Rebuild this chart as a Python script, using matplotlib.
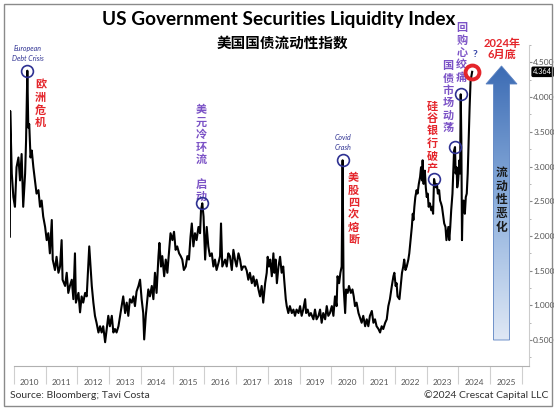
import numpy as np
import matplotlib
matplotlib.use("Agg")
import matplotlib.pyplot as plt
from matplotlib.patches import Polygon, Rectangle
from matplotlib.colors import LinearSegmentedColormap

# index level: (decimal year, value)
seg_2010_2013 = [
    (2009.87, 1.99), (2009.88, 3.80), (2009.93, 2.90), (2009.98, 2.56), (2010.03, 2.42),
    (2010.08, 2.99), (2010.14, 3.13), (2010.19, 2.80), (2010.24, 3.18), (2010.29, 2.42),
    (2010.35, 2.90), (2010.38, 3.37), (2010.42, 4.38), (2010.45, 3.56), (2010.48, 3.61),
    (2010.52, 3.13), (2010.56, 3.23), (2010.61, 2.99), (2010.66, 2.80), (2010.71, 2.61),
    (2010.77, 2.66), (2010.82, 2.42), (2010.87, 2.51), (2010.92, 2.28), (2010.98, 2.13),
    (2011.03, 1.94), (2011.08, 2.04), (2011.13, 1.75), (2011.19, 2.23), (2011.22, 1.66),
    (2011.29, 1.51), (2011.34, 1.70), (2011.40, 1.47), (2011.45, 1.56), (2011.50, 1.94),
    (2011.53, 1.37), (2011.61, 1.28), (2011.66, 1.47), (2011.71, 1.18), (2011.76, 1.28),
    (2011.82, 1.37), (2011.87, 1.09), (2011.92, 1.75), (2011.95, 1.04), (2012.03, 1.18),
    (2012.08, 0.90), (2012.13, 1.13), (2012.18, 1.04), (2012.24, 1.18), (2012.29, 1.13),
    (2012.37, 1.85), (2012.45, 1.28), (2012.50, 1.04), (2012.55, 0.85), (2012.60, 0.75),
    (2012.66, 0.61), (2012.71, 0.70), (2012.76, 0.61), (2012.81, 0.70), (2012.87, 0.47),
    (2012.92, 0.66), (2012.97, 0.85), (2013.02, 0.70), (2013.08, 0.85), (2013.13, 0.61),
    (2013.18, 0.66), (2013.23, 0.61), (2013.29, 0.70), (2013.34, 0.85), (2013.39, 0.99),
    (2013.44, 1.13),
]
seg_2013_2017 = [
    (2013.50, 0.89), (2013.55, 1.04), (2013.60, 0.85), (2013.65, 1.09), (2013.71, 1.04),
    (2013.76, 1.13), (2013.81, 0.99), (2013.86, 1.20), (2013.92, 1.28), (2013.97, 1.37),
    (2014.02, 1.09), (2014.07, 0.89), (2014.10, 0.51), (2014.15, 0.85), (2014.18, 0.99),
    (2014.23, 1.23), (2014.28, 1.13), (2014.34, 1.28), (2014.39, 1.09), (2014.44, 1.47),
    (2014.49, 1.18), (2014.55, 1.71), (2014.58, 1.90), (2014.63, 1.56), (2014.67, 1.71),
    (2014.73, 1.42), (2014.78, 1.66), (2014.83, 1.47), (2014.88, 1.75), (2014.93, 2.04),
    (2014.99, 1.94), (2015.04, 2.06), (2015.09, 1.80), (2015.14, 1.85), (2015.20, 1.75),
    (2015.25, 1.71), (2015.30, 1.66), (2015.35, 1.51), (2015.41, 1.56), (2015.46, 1.71),
    (2015.51, 1.66), (2015.56, 1.99), (2015.60, 2.18), (2015.65, 1.85), (2015.70, 2.04),
    (2015.75, 1.94), (2015.81, 2.13), (2015.86, 2.04), (2015.89, 2.37), (2015.93, 2.47),
    (2015.97, 2.28), (2016.02, 1.66), (2016.07, 2.13), (2016.12, 1.85), (2016.17, 1.71),
    (2016.23, 1.75), (2016.28, 1.56), (2016.33, 1.66), (2016.38, 1.51), (2016.44, 1.61),
    (2016.49, 1.71), (2016.52, 2.18), (2016.56, 1.56), (2016.65, 1.66), (2016.70, 1.56),
    (2016.75, 1.75), (2016.80, 1.71), (2016.86, 1.51), (2016.91, 1.80), (2016.96, 1.66),
    (2017.01, 1.56), (2017.07, 1.75), (2017.12, 1.66), (2017.17, 1.51), (2017.22, 1.56),
]
seg_2017_2020 = [
    (2017.28, 1.56), (2017.33, 1.50), (2017.38, 1.37), (2017.43, 1.47), (2017.49, 1.32),
    (2017.54, 1.42), (2017.59, 1.28), (2017.64, 1.37), (2017.70, 1.23), (2017.75, 1.13),
    (2017.80, 1.28), (2017.85, 1.04), (2017.91, 1.32), (2017.96, 1.47), (2017.99, 1.70),
    (2018.03, 1.56), (2018.07, 1.66), (2018.12, 1.42), (2018.17, 1.75), (2018.20, 1.47),
    (2018.24, 1.66), (2018.28, 1.32), (2018.33, 1.56), (2018.38, 1.70), (2018.43, 1.47),
    (2018.48, 1.56), (2018.51, 1.37), (2018.56, 1.09), (2018.59, 0.99), (2018.64, 0.89),
    (2018.69, 0.99), (2018.75, 0.89), (2018.80, 0.94), (2018.85, 0.85), (2018.90, 0.94),
    (2018.96, 0.89), (2019.01, 0.99), (2019.06, 0.85), (2019.11, 0.94), (2019.17, 1.09),
    (2019.20, 0.89), (2019.25, 0.94), (2019.30, 0.85), (2019.35, 0.89), (2019.43, 0.80),
    (2019.48, 0.94), (2019.53, 0.80), (2019.59, 0.85), (2019.64, 0.94), (2019.69, 0.75),
    (2019.74, 0.89), (2019.80, 0.80), (2019.85, 0.99), (2019.90, 0.85), (2019.95, 0.89),
    (2020.01, 0.99), (2020.06, 0.85), (2020.11, 1.13), (2020.16, 0.99), (2020.19, 1.42),
    (2020.24, 1.32), (2020.28, 1.47), (2020.32, 1.56), (2020.35, 3.09), (2020.38, 1.28),
    (2020.43, 0.89), (2020.46, 1.23), (2020.51, 1.18), (2020.55, 1.28), (2020.61, 1.18),
    (2020.66, 1.23), (2020.70, 1.13), (2020.74, 0.99), (2020.79, 1.04), (2020.85, 0.89),
]
seg_2020_2024 = [
    (2020.95, 0.75), (2021.00, 0.85), (2021.06, 0.70), (2021.11, 0.80), (2021.16, 0.70),
    (2021.21, 0.85), (2021.27, 0.92), (2021.32, 0.75), (2021.37, 0.80), (2021.42, 0.70),
    (2021.48, 0.66), (2021.53, 0.61), (2021.58, 0.70), (2021.63, 0.66), (2021.69, 0.75),
    (2021.74, 0.80), (2021.79, 0.99), (2021.84, 1.09), (2021.90, 1.28), (2021.95, 1.42),
    (2021.98, 1.47), (2022.02, 1.28), (2022.05, 1.32), (2022.08, 1.13), (2022.14, 1.09),
    (2022.18, 1.28), (2022.22, 1.47), (2022.26, 1.56), (2022.29, 1.66), (2022.33, 1.51),
    (2022.37, 1.56), (2022.42, 1.66), (2022.45, 1.75), (2022.49, 1.94), (2022.53, 2.13),
    (2022.56, 2.32), (2022.58, 2.23), (2022.61, 2.42), (2022.64, 2.56), (2022.68, 2.66),
    (2022.71, 2.61), (2022.75, 2.75), (2022.79, 2.85), (2022.82, 2.99), (2022.85, 2.80),
    (2022.87, 3.09), (2022.90, 2.75), (2022.94, 2.94), (2022.97, 2.70), (2023.00, 2.56),
    (2023.03, 2.61), (2023.06, 2.42), (2023.10, 2.47), (2023.14, 2.37), (2023.17, 2.42),
    (2023.20, 2.32), (2023.23, 2.82), (2023.26, 2.75), (2023.29, 2.70), (2023.32, 2.75),
    (2023.35, 2.61), (2023.39, 2.66), (2023.42, 2.51), (2023.45, 2.47), (2023.48, 2.42),
    (2023.52, 2.28), (2023.55, 2.18), (2023.59, 2.13), (2023.62, 1.94), (2023.65, 2.04),
    (2023.68, 2.13), (2023.71, 1.94), (2023.74, 2.13), (2023.77, 2.37), (2023.81, 2.61),
    (2023.84, 2.99), (2023.86, 3.23), (2023.89, 3.28), (2023.91, 2.90), (2023.94, 2.99),
    (2023.96, 2.70), (2023.99, 2.80), (2024.03, 3.09), (2024.05, 2.90), (2024.07, 4.04),
    (2024.09, 3.37), (2024.11, 1.94), (2024.13, 2.42), (2024.16, 2.51), (2024.20, 2.32),
    (2024.23, 2.56), (2024.26, 2.61), (2024.29, 2.90), (2024.32, 3.37), (2024.35, 3.85),
    (2024.38, 4.23), (2024.43, 4.364),
]

years = list(range(2010, 2026))
y_ticks = [0.5, 1.0, 1.5, 2.0, 2.5, 3.0, 3.5, 4.0, 4.5]

# circled events
event_t = [2010.42, 2015.93, 2020.35, 2023.23, 2023.89, 2024.07]
event_en = ["European\nDebt Crisis", "", "Covid\nCrash", "", "", ""]
event_cn = ["欧洲危机", "美元冷环流\n启动", "美股四次熔断", "硅谷银行破产", "国债市场动荡", "回购心绞痛"]

title = "US Government Securities Liquidity Index"
subtitle = "美国国债流动性指数"
end_label = "2024年\n6月底"
arrow_label = "流动性恶化"
source = "Source: Bloomberg; Tavi Costa"
copyright_txt = "©2024 Crescat Capital LLC"

RED = "#e4252b"
PURPLE = "#7b52c6"
NAVY = "#2e3192"

plt.rcParams["font.family"] = ["Lato", "Noto Sans CJK SC", "DejaVu Sans"]

pts = seg_2010_2013 + seg_2013_2017 + seg_2017_2020 + seg_2020_2024
t = np.array([p[0] for p in pts])
v = np.array([p[1] for p in pts])


def vertical(s):
    # stack characters top to bottom, blank line between parts
    return "\n\n".join("\n".join(part) for part in s.split("\n"))


W, H = 554, 409
fig = plt.figure(figsize=(W / 100, H / 100), dpi=100)
fig.patch.set_facecolor("white")

# main axes, placed in pixels
x0, x1, yb, yt = 10, 529, 366.4, 45
ax = fig.add_axes([x0 / W, 1 - yb / H, (x1 - x0) / W, (yb - yt) / H])
ax.patch.set_alpha(0)
xmin = 2010 - 4 / 31.75
xmax = 2010 + (x1 - 14) / 31.75
ax.set_xlim(xmin, xmax)
ax.set_ylim(0.5 - (yb - 340) / 69.8, 4.5 + (60.7 - yt) / 69.8)

ax.plot(t, v, color="black", lw=1.5, zorder=3)

# year separators + centred labels
ax.set_xticks(np.arange(2010, 2027))
ax.set_xticks([y + 0.5 for y in years], minor=True)
ax.set_xticklabels([str(y) for y in years], minor=True)
ax.tick_params(axis="x", which="major", length=13, width=0.8, color="#cfcfcf",
               labelbottom=False)
ax.tick_params(axis="x", which="minor", length=0, pad=9, labelsize=6, labelcolor="#555555")

ax.yaxis.tick_right()
ax.set_yticks(y_ticks)
ax.set_yticklabels([f"{y:.3f}" for y in y_ticks])
ax.set_yticks(np.arange(0.25, 4.76, 0.5), minor=True)
ax.tick_params(axis="y", which="major", length=2, pad=1, labelsize=6,
               labelcolor="#555555", color="#888888")
ax.tick_params(axis="y", which="minor", length=1.5, color="#aaaaaa")

for s in ["top", "left"]:
    ax.spines[s].set_visible(False)
ax.spines["right"].set_color("#cccccc")
ax.spines["bottom"].set_color("#b0b0b0")
ax.spines["bottom"].set_bounds(2010, xmax)

# last value tag
ax.annotate(f"{v[-1]:.3f}", xy=(1, v[-1]), xycoords=ax.get_yaxis_transform(),
            xytext=(3, 0), textcoords="offset points", ha="left", va="center",
            fontsize=5.3, color="white", annotation_clip=False,
            bbox=dict(boxstyle="round,pad=0.15", fc="black", ec="black"))

# event circles and labels
ev_v = np.interp(event_t, t, v)
ax.plot(event_t, ev_v, "o", ms=8.5, mfc="none", mec=NAVY, mew=1.2, zorder=4)
ax.plot(t[-1], v[-1], "o", ms=10, mfc="none", mec=RED, mew=2.8, zorder=5)

cn_style = [(RED, (9.4, -23.8)), (PURPLE, (-0.7, 36)), (RED, (7.9, -34.9)),
            (RED, (-1.4, 30.2)), (PURPLE, (-5, 36.4)), (PURPLE, (0.7, 30.2))]
for te, ve, en, cn, (col, off) in zip(event_t, ev_v, event_en, event_cn, cn_style):
    ax.annotate(vertical(cn), xy=(te, ve), xytext=off, textcoords="offset points",
                ha="center", va="center", fontsize=8, fontweight="bold", color=col,
                linespacing=1.15, annotation_clip=False)
    if en:
        ax.annotate(en, xy=(te, ve), xytext=(0.5, 12.5), textcoords="offset points",
                    ha="center", va="center", fontsize=5, style="italic", color=NAVY,
                    linespacing=1.5, annotation_clip=False)

ax.annotate("?", xy=(t[-1], v[-1]), xytext=(2.2, 12.2), textcoords="offset points",
            ha="center", va="center", fontsize=7.5, fontweight="bold", color="#3545a8")
ax.annotate(end_label, xy=(t[-1], v[-1]), xytext=(21.6, 16.5), textcoords="offset points",
            ha="center", va="center", fontsize=8, fontweight="bold", color=RED,
            linespacing=1.05, annotation_clip=False)

# overlay in pixel units for layout items
ov = fig.add_axes([0, 0, 1, 1], zorder=5)
ov.axis("off")
ov.patch.set_alpha(0)

cx = 501.5
arrow_pts = [(cx - 8, 340), (cx + 8, 340), (cx + 8, 84), (cx + 15.5, 84), (cx, 66),
             (cx - 15.5, 84), (cx - 8, 84)]
arrow = Polygon(arrow_pts, closed=True, fc="none", ec="#5b82c2", lw=0.6, zorder=2)
ov.add_patch(arrow)
cmap = LinearSegmentedColormap.from_list("blues", ["#3c6cb4", "#8eb0dd", "#dfe8f5"])
grad = np.linspace(0, 1, 256).reshape(-1, 1)
im = ov.imshow(grad, cmap=cmap, extent=(cx - 16, cx + 16, 340, 66), aspect="auto",
               origin="upper", zorder=1)
im.set_clip_path(arrow)
ov.text(cx, 200, "\n".join(arrow_label), ha="center", va="center", fontsize=8.5,
        fontweight="bold", linespacing=1.3, color="#1a1a1a", zorder=3)

ov.text(279, 20, title, ha="center", va="center", fontsize=13.7, fontweight="bold")
ov.text(282, 44, subtitle, ha="center", va="center", fontsize=10.5, fontweight="bold")
ov.text(10, 395, source, ha="left", va="center", fontsize=7.5, color="#333333")
ov.text(548, 395, copyright_txt, ha="right", va="center", fontsize=7.5, color="#333333")
ov.add_patch(Rectangle((4, 3.5), 548, 402, fill=False, ec="#8a8a8a", lw=1))

ov.set_xlim(0, W)
ov.set_ylim(H, 0)

fig.savefig("out.png", dpi=100)
